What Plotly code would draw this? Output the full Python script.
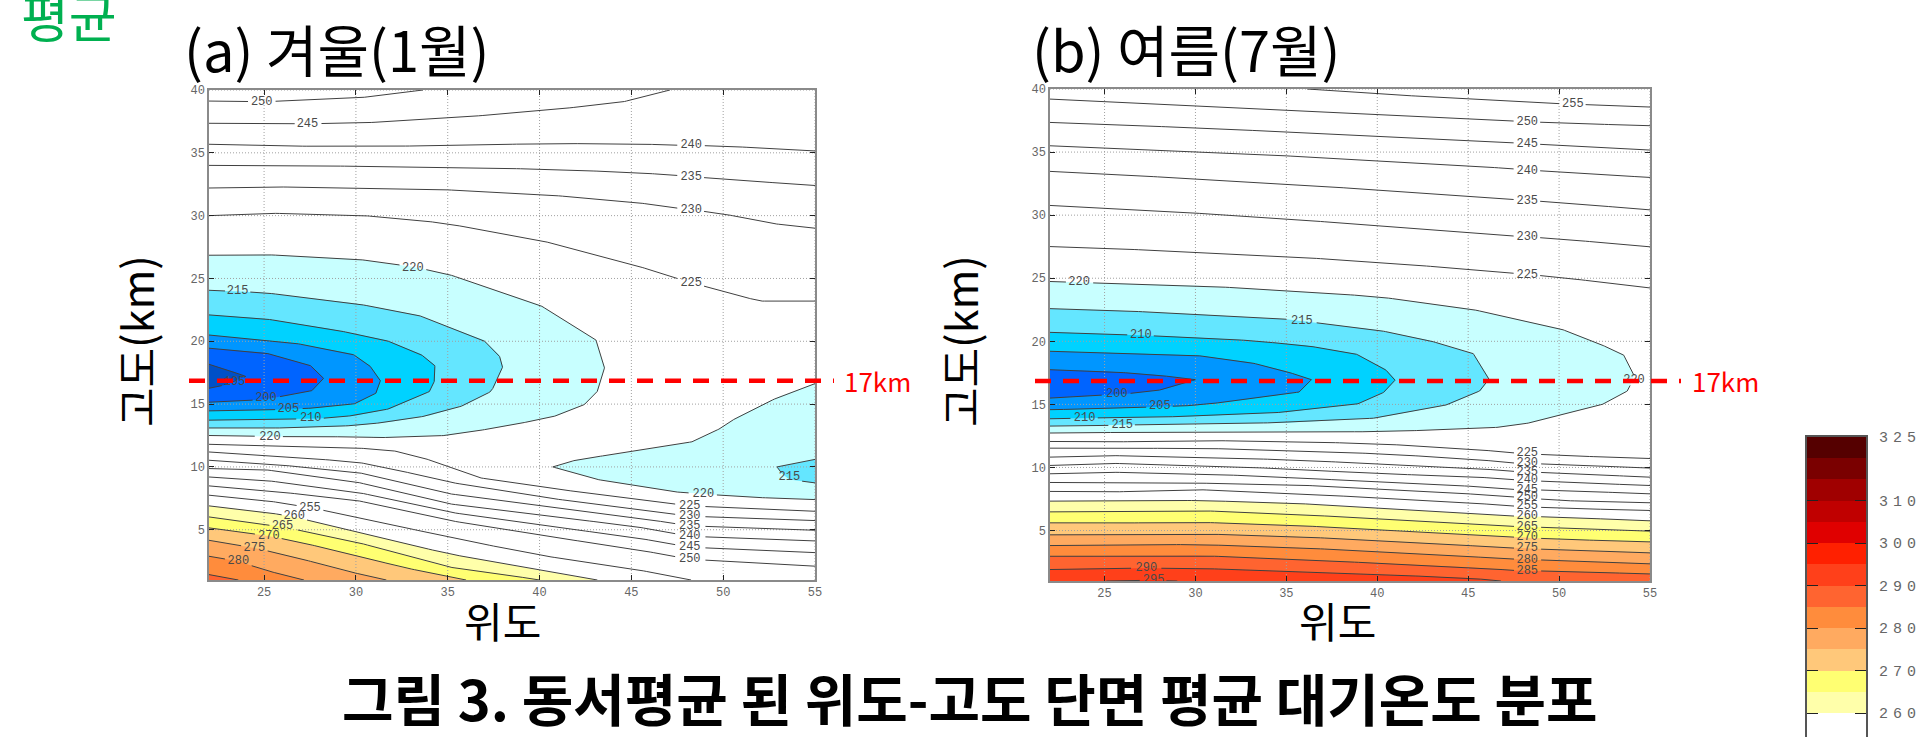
import numpy as np
import plotly.graph_objects as go

# ---------- Axis ticks ----------
lat_ticks = [25, 30, 35, 40, 45, 50, 55]
alt_ticks = [5, 10, 15, 20, 25, 30, 35, 40]
jet_alt = 16.85

# ---------- (a) Winter isotherms: latitude / altitude (km) ----------
w250_lat = [22, 25, 30, 33.65]
w250_alt = [39.12, 39.07, 39.34, 40]
w245_lat = [22, 25, 30, 35, 40, 44.4, 47.1]
w245_alt = [37.35, 37.3, 37.35, 37.75, 38.33, 39.0, 40]
w240_lat = [22, 25, 30, 35, 40, 45, 47, 50, 55]
w240_alt = [35.68, 35.55, 35.5, 35.57, 35.73, 35.73, 35.62, 35.54, 35.15]
w235_lat = [22, 25, 30, 35, 40, 45, 47.5, 50, 55]
w235_alt = [34.0, 34.0, 33.93, 33.85, 33.7, 33.45, 33.2, 32.9, 32.4]
w230_lat = [22, 25, 30, 35, 40, 45, 47.5, 50, 52.5, 55]
w230_alt = [32.2, 32.3, 32.2, 32.05, 31.7, 31.1, 30.6, 30.15, 29.4, 29.0]
w225u_lat = [22, 25, 30, 33, 35, 40, 45, 47.5, 50, 52, 55]
w225u_alt = [30.0, 30.2, 30.05, 29.7, 29.35, 28.05, 26.15, 25.0, 23.95, 23.2, 23.2]

w220_lat = [22, 25, 30, 33, 35, 40, 43.07, 43.55, 43.2, 42.5, 41.0, 40, 38, 35, 33, 31.4, 30, 26.6, 22]
w220_alt = [26.85, 26.9, 26.55, 25.95, 25.35, 22.9, 20.1, 17.96, 16.1, 15, 14.1, 13.77, 13.2, 12.5, 12.44, 12.33, 12.4, 12.4, 12.5]
w215_lat = [22, 25, 30, 33.35, 36.94, 37.8, 38, 37.6, 37.35, 35.9, 34, 31.9, 30, 26.6, 22]
w215_alt = [24.06, 23.87, 23.0, 22.1, 20.1, 18.9, 18, 16.6, 16, 14.9, 14.1, 13.6, 13.3, 13.1, 13.1]
w210_lat = [22, 25, 28.55, 31.6, 33.5, 34.3, 34.3, 34, 31.9, 30, 28, 25, 22]
w210_alt = [22.1, 21.8, 21, 20.1, 19, 18.1, 16.9, 16, 14.65, 14.1, 13.85, 13.77, 13.72]
w205_lat = [22, 25, 26.6, 29.8, 30.73, 31.34, 31.13, 30, 28, 25.6, 22]
w205_alt = [20.5, 20.1, 19.87, 19.0, 18.1, 16.9, 15.9, 15.04, 14.7, 14.56, 14.46]
w200_lat = [22, 25, 27.5, 28.24, 27.6, 25, 22]
w200_alt = [19.45, 19.1, 18.1, 17.05, 16.07, 15.36, 15.15]
w195_lat = [22, 23.3, 24, 22.8, 22]
w195_alt = [18.17, 17.6, 17.2, 16.5, 16.26]

w220b_lat = [55, 53.07, 50.8, 49.9, 48.3, 45, 42.1, 40.72, 41.97, 43.15, 45, 47.5, 51.2, 55]
w220b_alt = [16.63, 15.6, 14, 13.1, 12, 11.2, 10.6, 10, 9.47, 9.0, 8.55, 8.0, 7.6, 7.4]
w215b_lat = [55, 52.93, 53.2, 53.6, 55]
w215b_alt = [10.6, 10, 9.47, 9.0, 8.73]

w225_lat = [22, 25, 30, 31.92, 33.5, 35, 36.68, 40, 45, 48.18, 55]
w225_alt = [11.8, 11.7, 11.51, 11.33, 10.8, 10.05, 9.15, 8.41, 7.48, 6.9, 6.47]
w230l_lat = [22, 25, 30, 31.92, 35, 40, 45, 48.18, 55]
w230l_alt = [11.19, 10.93, 10.4, 9.87, 8.81, 7.61, 6.68, 6.08, 5.73]
w235l_lat = [22, 25, 26.64, 30, 33.5, 35, 40, 45, 48.18, 55]
w235l_alt = [10.53, 10.27, 10.05, 9.6, 8.41, 7.88, 6.95, 6.02, 5.31, 4.96]
w240l_lat = [22, 25, 30, 35, 40, 45, 48.18, 55]
w240l_alt = [9.87, 9.79, 8.81, 7.08, 6.15, 5.31, 4.48, 4.11]
w245l_lat = [22, 25, 30, 35, 40, 45, 48.18, 55]
w245l_alt = [9.2, 8.94, 8.01, 6.42, 5.36, 4.43, 3.61, 3.18]
w250l_lat = [22, 25, 30, 35, 40, 45, 48.18, 55]
w250l_alt = [8.49, 8.14, 7.35, 5.76, 4.56, 3.5, 2.65, 2.1]
w255_lat = [22, 25, 27.5, 30, 35, 40, 45, 48.25]
w255_alt = [7.75, 7.35, 6.76, 6.02, 4.43, 2.97, 1.91, 1.0]
w260_lat = [22, 25, 26.64, 30, 35, 40, 43.15]
w260_alt = [6.9, 6.42, 6.02, 4.83, 3.1, 1.78, 1.0]
w265_lat = [22, 25, 26, 30, 35, 37.74, 40]
w265_alt = [6.02, 5.41, 5.23, 4.03, 2.04, 1.51, 1.0]
w270_lat = [22, 25, 26.64, 30, 32.45, 36]
w270_alt = [5.15, 4.56, 4.11, 2.97, 2.04, 1.0]
w275_lat = [22, 24.47, 26.64, 29.28, 31.66]
w275_alt = [4.16, 3.55, 2.84, 1.78, 1.0]
w280_lat = [22, 23.6, 25.05, 27.17]
w280_alt = [2.89, 2.49, 1.78, 1.0]
w285_lat = [22, 23.6]
w285_alt = [1.43, 1.0]

# ---------- (b) Summer isotherms ----------
s_grid_lat = [22, 25, 30, 35, 40, 45, 50, 55]
s255u_lat = [36.14, 40, 45, 50, 55]
s255u_alt = [40, 39.6, 39.23, 38.84, 38.57]
s250u_alt = [39.2, 39.0, 38.7, 38.33, 37.96, 37.62, 37.3, 37.09]
s245u_alt = [37.35, 37.17, 36.93, 36.59, 36.24, 35.93, 35.53, 35.16]
s240u_alt = [35.5, 35.32, 35.0, 34.7, 34.31, 33.92, 33.41, 32.99]
s235u_alt = [33.47, 33.28, 32.86, 32.49, 31.98, 31.48, 31.0, 30.42]
s230u_alt = [30.77, 30.56, 30.16, 29.71, 29.15, 28.57, 28.12, 27.49]
s225u_alt = [27.51, 27.38, 27.06, 26.72, 26.27, 25.71, 25.08, 24.23]

s220_lat = [22, 25, 30, 35, 40, 45, 50, 51.76, 53.53, 54.12, 53.8, 52.5, 50, 48.67, 46.9, 45, 42.48, 40, 30, 22]
s220_alt = [24.74, 24.6, 24.42, 24.02, 23.54, 22.6, 21.03, 20.08, 18.97, 17.3, 16.1, 15.05, 14.13, 13.6, 13.2, 13.07, 12.94, 12.83, 12.83, 12.73]
s215_lat = [22, 25, 30, 35, 40, 42.77, 45.28, 46.16, 45.7, 43.95, 40, 35, 30, 25, 22]
s215_alt = [22.59, 22.49, 22.14, 21.75, 20.9, 20.1, 19.02, 17.04, 16.11, 15, 13.92, 13.55, 13.47, 13.33, 13.28]
s210_lat = [22, 25, 30, 32.75, 36, 38.8, 40.4, 41, 40.4, 38.94, 35, 30, 25, 22]
s210_alt = [20.71, 20.58, 20.3, 20.08, 19.68, 19.02, 17.83, 16.96, 15.98, 15.05, 14.39, 14.05, 13.94, 13.86]
s205_lat = [22, 25, 30, 32.9, 34.8, 36.38, 35.7, 32.46, 30, 25, 22]
s205_alt = [19.21, 19.1, 18.89, 18.36, 17.7, 16.96, 15.98, 15.32, 14.92, 14.66, 14.58]
s200_lat = [22, 25, 27.74, 30, 28.18, 26.27, 22]
s200_alt = [17.75, 17.62, 17.35, 16.96, 16.16, 15.85, 15.5]

s_low_lat = [22, 25, 30, 35, 40, 45, 47.63, 50, 55]
s225_alt = [12.06, 12.01, 12.14, 12.06, 11.88, 11.48, 11.14, 10.95, 10.71]
s230_alt = [11.53, 11.5, 11.53, 11.35, 11.09, 10.69, 10.34, 10.24, 9.95]
s235_alt = [10.82, 10.95, 10.82, 10.61, 10.29, 9.97, 9.68, 9.55, 9.23]
s240_alt = [10.16, 10.34, 10.16, 9.89, 9.5, 9.29, 9.02, 8.84, 8.57]
s245_alt = [9.5, 9.63, 9.5, 9.23, 8.84, 8.52, 8.25, 8.18, 7.91]
s250_alt = [8.81, 8.81, 8.76, 8.65, 8.31, 7.91, 7.65, 7.38, 7.2]
s255_alt = [8.1, 8.04, 8.25, 7.96, 7.59, 7.2, 6.93, 6.77, 6.59]
s260_alt = [7.33, 7.38, 7.38, 7.2, 6.77, 6.32, 6.14, 6.06, 5.77]
s265_alt = [6.48, 6.51, 6.59, 6.32, 5.93, 5.53, 5.32, 5.21, 4.95]
s270_alt = [5.61, 5.58, 5.66, 5.45, 5.05, 4.68, 4.47, 4.31, 4.1]
s275_alt = [4.66, 4.68, 4.74, 4.55, 4.21, 3.81, 3.6, 3.47, 3.23]
s280_alt = [3.81, 3.86, 3.89, 3.68, 3.33, 2.94, 2.73, 2.62, 2.36]
s285_alt = [2.96, 2.96, 3.02, 2.75, 2.41, 2.09, 1.83, 1.77, 1.56]
s290_lat = [22, 25, 30, 35, 40, 45, 46.8]
s290_alt = [1.91, 2.01, 2.01, 1.77, 1.51, 1.24, 1.0]
s295_lat = [25.1, 27.2, 29]
s295_alt = [1.0, 1.05, 1.0]

# ---------- Contour labels: level, latitude, altitude ----------
w_label_levels = [250, 245, 240, 235, 230, 225, 220, 215, 195, 200, 205, 210, 220, 215, 220, 225, 230, 235, 240, 245, 250, 255, 260, 265, 270, 275, 280]
w_label_lats = [24.87, 27.36, 48.26, 48.26, 48.26, 48.26, 33.1, 23.56, 23.39, 25.1, 26.32, 27.54, 25.32, 53.6, 48.92, 48.18, 48.18, 48.18, 48.18, 48.18, 48.18, 27.5, 26.64, 26.0, 25.26, 24.47, 23.6]
w_label_alts = [39.07, 37.32, 35.62, 33.1, 30.42, 24.6, 25.84, 24.0, 16.76, 15.46, 14.64, 13.87, 12.41, 9.18, 7.83, 6.9, 6.08, 5.31, 4.48, 3.61, 2.65, 6.76, 6.08, 5.31, 4.48, 3.55, 2.49]
s_label_levels = [255, 250, 245, 240, 235, 230, 225, 220, 215, 210, 220, 200, 205, 210, 215, 225, 230, 235, 240, 245, 250, 255, 260, 265, 270, 275, 280, 285, 290, 295]
s_label_lats = [50.76, 48.25, 48.25, 48.25, 48.25, 48.25, 48.25, 23.6, 35.85, 27.0, 54.12, 25.68, 28.04, 23.9, 25.97, 48.25, 48.25, 48.25, 48.25, 48.25, 48.25, 48.25, 48.25, 48.25, 48.25, 48.25, 48.25, 48.25, 27.3, 27.7]
s_label_alts = [38.81, 37.41, 35.66, 33.52, 31.11, 28.23, 25.24, 24.71, 21.61, 20.5, 16.9, 15.8, 14.84, 13.94, 13.36, 11.11, 10.34, 9.63, 8.97, 8.23, 7.65, 6.93, 6.14, 5.32, 4.47, 3.6, 2.7, 1.83, 2.04, 1.07]

# ---------- Colours and colour bar ----------
fill_colors = {195: "#0050c8", 200: "#0064ff", 205: "#0096ff", 210: "#00d2ff", 215: "#64e6ff", 220: "#c8ffff",
               260: "#ffffaa", 265: "#ffff72", 270: "#ffc87a", 275: "#ffaa60", 280: "#ff8c3c", 285: "#ff6430",
               290: "#ff401a", 295: "#ff2000"}
cbar_bases = [260, 265, 270, 275, 280, 285, 290, 295, 300, 305, 310, 315, 320]
cbar_colors = ["#ffffaa", "#ffff72", "#ffc87a", "#ffaa60", "#ff8c3c", "#ff6430", "#ff401a", "#ff2000",
               "#e00000", "#c00000", "#a00000", "#7a0000", "#550000"]
cbar_ticks = [260, 270, 280, 290, 300, 310, 325]

W, H = 1921, 737
LINE = "#404040"
KR = "Noto Sans CJK KR"
MONO = "Liberation Mono"


def px(x):
    return x / W


def py(y):
    return 1 - y / H


def close_down(lat, alt):
    return lat + [lat[-1], 22], alt + [1, 1]


def broken(lat, alt, level, labels):
    """Densify a polyline only to open the small gap where its label sits."""
    xs, ys = [lat[0]], [alt[0]]
    for i in range(len(lat) - 1):
        t = np.linspace(0, 1, 25)[1:]
        xs.extend(lat[i] + t * (lat[i + 1] - lat[i]))
        ys.extend(alt[i] + t * (alt[i + 1] - alt[i]))
    xs, ys = np.array(xs, float), np.array(ys, float)
    for lv, lx, ly in labels:
        if lv == level:
            m = (np.abs(xs - lx) < 0.68) & (np.abs(ys - ly) < 0.36)
            ys[m] = np.nan
    return xs, ys


fig = go.Figure()


def panel(suffix, filled, lines, labels):
    xa, ya = f"x{suffix}", f"y{suffix}"
    for level, lat, alt, kind in filled:
        fx, fy = (lat, alt) if kind == "lobe" else close_down(lat, alt)
        fig.add_trace(go.Scatter(x=fx, y=fy, xaxis=xa, yaxis=ya, mode="lines", line=dict(width=0),
                                 fill="toself", fillcolor=fill_colors[level], hoverinfo="skip"))
    gx, gy = [], []
    for t in lat_ticks:
        gx += [t, t, None]
        gy += [1, 40, None]
    for t in alt_ticks:
        gx += [22, 55, None]
        gy += [t, t, None]
    fig.add_trace(go.Scatter(x=gx, y=gy, xaxis=xa, yaxis=ya, mode="lines",
                             line=dict(color="#a0a0a0", width=1, dash="1px,2px"), hoverinfo="skip"))
    for level, lat, alt in lines:
        bx, by = broken(lat, alt, level, labels)
        fig.add_trace(go.Scatter(x=bx, y=by, xaxis=xa, yaxis=ya, mode="lines",
                                 line=dict(color=LINE, width=1), hoverinfo="skip"))
    fig.add_trace(go.Scatter(x=[l[1] for l in labels], y=[l[2] for l in labels], xaxis=xa, yaxis=ya,
                             mode="text", text=[str(l[0]) for l in labels], textposition="middle center",
                             textfont=dict(family=MONO, size=12, color="#4a4a4a"), hoverinfo="skip"))


w_filled = [(260, w260_lat, w260_alt, "down"), (265, w265_lat, w265_alt, "down"), (270, w270_lat, w270_alt, "down"),
            (275, w275_lat, w275_alt, "down"), (280, w280_lat, w280_alt, "down"), (285, w285_lat, w285_alt, "down"),
            (220, w220_lat, w220_alt, "lobe"), (220, w220b_lat, w220b_alt, "lobe"), (215, w215b_lat, w215b_alt, "lobe"),
            (215, w215_lat, w215_alt, "lobe"), (210, w210_lat, w210_alt, "lobe"), (205, w205_lat, w205_alt, "lobe"),
            (200, w200_lat, w200_alt, "lobe"), (195, w195_lat, w195_alt, "lobe")]
w_lines = [(250, w250_lat, w250_alt), (245, w245_lat, w245_alt), (240, w240_lat, w240_alt), (235, w235_lat, w235_alt),
           (230, w230_lat, w230_alt), (225, w225u_lat, w225u_alt), (220, w220_lat, w220_alt), (215, w215_lat, w215_alt),
           (210, w210_lat, w210_alt), (205, w205_lat, w205_alt), (200, w200_lat, w200_alt), (195, w195_lat, w195_alt),
           (220, w220b_lat, w220b_alt), (215, w215b_lat, w215b_alt), (225, w225_lat, w225_alt), (230, w230l_lat, w230l_alt),
           (235, w235l_lat, w235l_alt), (240, w240l_lat, w240l_alt), (245, w245l_lat, w245l_alt), (250, w250l_lat, w250l_alt),
           (255, w255_lat, w255_alt), (260, w260_lat, w260_alt), (265, w265_lat, w265_alt), (270, w270_lat, w270_alt),
           (275, w275_lat, w275_alt), (280, w280_lat, w280_alt), (285, w285_lat, w285_alt)]
w_labels = list(zip(w_label_levels, w_label_lats, w_label_alts))

s_warm = [(260, s260_alt), (265, s265_alt), (270, s270_alt), (275, s275_alt), (280, s280_alt), (285, s285_alt)]
s_filled = [(lv, s_low_lat, a, "down") for lv, a in s_warm]
s_filled += [(290, s290_lat, s290_alt, "down"), (295, s295_lat, s295_alt, "down"),
             (220, s220_lat, s220_alt, "lobe"), (215, s215_lat, s215_alt, "lobe"), (210, s210_lat, s210_alt, "lobe"),
             (205, s205_lat, s205_alt, "lobe"), (200, s200_lat, s200_alt, "lobe")]
s_lines = [(255, s255u_lat, s255u_alt), (250, s_grid_lat, s250u_alt), (245, s_grid_lat, s245u_alt), (240, s_grid_lat, s240u_alt),
           (235, s_grid_lat, s235u_alt), (230, s_grid_lat, s230u_alt), (225, s_grid_lat, s225u_alt),
           (220, s220_lat, s220_alt), (215, s215_lat, s215_alt), (210, s210_lat, s210_alt), (205, s205_lat, s205_alt),
           (200, s200_lat, s200_alt), (225, s_low_lat, s225_alt), (230, s_low_lat, s230_alt), (235, s_low_lat, s235_alt),
           (240, s_low_lat, s240_alt), (245, s_low_lat, s245_alt), (250, s_low_lat, s250_alt), (255, s_low_lat, s255_alt)]
s_lines += [(lv, s_low_lat, a) for lv, a in s_warm] + [(290, s290_lat, s290_alt), (295, s295_lat, s295_alt)]
s_labels = list(zip(s_label_levels, s_label_lats, s_label_alts))

panel("", w_filled, w_lines, w_labels)
panel("2", s_filled, s_lines, s_labels)

fig.add_trace(go.Bar(x=[0.5] * len(cbar_bases), y=[5] * len(cbar_bases), base=cbar_bases, width=1, xaxis="x3", yaxis="y3",
                     marker=dict(color=cbar_colors, line=dict(width=0)), hoverinfo="skip"))

RED = dict(color="#ff0000", width=4.5, dash="16px,12px")
# 17 km guide: spans slightly past each frame, so its x-extent is on the paper, its height on the data axis
red_shapes = [
    dict(type="line", xref="paper", yref="y", x0=px(189), x1=px(834), y0=jet_alt, y1=jet_alt, line=RED, layer="above"),
    dict(type="line", xref="paper", yref="y2", x0=px(1035), x1=px(1681), y0=jet_alt, y1=jet_alt, line=RED, layer="above"),
]

tickfont = dict(family=MONO, size=12, color="#666666")


def xaxis(dom):
    return dict(domain=dom, range=[22, 55], tickvals=lat_ticks, ticks="inside", ticklen=5, tickcolor="#222222",
                mirror="ticks", showline=True, linecolor="#8a8a8a", linewidth=1.5, showgrid=False, zeroline=False,
                tickfont=tickfont, automargin=False)


def yaxis(dom):
    return dict(domain=dom, range=[1, 40], tickvals=alt_ticks, ticks="inside", ticklen=5, tickcolor="#222222",
                mirror="ticks", showline=True, linecolor="#8a8a8a", linewidth=1.5, showgrid=False, zeroline=False,
                tickfont=tickfont, automargin=False)


def note(text, x, y, size, color="#000000", angle=0, bold=False, xanchor="center"):
    return dict(text=text, x=px(x), y=py(y), xref="paper", yref="paper", showarrow=False, xanchor=xanchor, yanchor="middle",
                textangle=angle, font=dict(family=KR, size=size, color=color, weight=700 if bold else 400))


fig.update_layout(
    width=W, height=H, margin=dict(l=0, r=0, t=0, b=0, pad=0), showlegend=False, paper_bgcolor="white", plot_bgcolor="white",
    bargap=0, barmode="overlay", shapes=red_shapes,
    xaxis=xaxis([px(209), px(815)]), yaxis=yaxis([py(580), py(90)]),
    xaxis2=dict(xaxis([px(1050), px(1650)]), anchor="y2"), yaxis2=dict(yaxis([py(581), py(89)]), anchor="x2"),
    xaxis3=dict(domain=[px(1807), px(1866)], range=[0, 1], anchor="y3", showticklabels=False, ticks="", showline=True,
                mirror=True, linecolor="#555555", linewidth=2, showgrid=False, zeroline=False, automargin=False),
    yaxis3=dict(domain=[py(737), py(437)], range=[254.35, 325], anchor="x3", side="right", tickvals=cbar_ticks,
                ticks="inside", ticklen=11, tickcolor="#222222", mirror="ticks", showline=True, linecolor="#555555",
                linewidth=2, showgrid=False, zeroline=False, ticklabelstandoff=8, automargin=False,
                tickfont=dict(family=MONO, size=15, color="#666666")),
    annotations=[
        note("평균", 69, 15, 52, color="#00b050"),
        note("(a) 겨울(1월)", 182, 47, 56, xanchor="left"),
        note("(b) 여름(7월)", 1030, 47, 56, xanchor="left"),
        note("고도(km)", 135, 341, 43, angle=-90),
        note("고도(km)", 959, 341, 43, angle=-90),
        note("위도", 502, 619, 42),
        note("위도", 1337, 619, 42),
        note("17km", 842, 380, 26, color="#ff0000", xanchor="left"),
        note("17km", 1690, 380, 26, color="#ff0000", xanchor="left"),
        note("그림 3. 동서평균 된 위도-고도 단면 평균 대기온도 분포", 970, 696, 56, bold=True),
    ],
)

fig.write_html("out.html", config=dict(displayModeBar=False),
               post_script="document.body.style.margin='0';document.body.style.overflow='hidden';"
                           "document.querySelectorAll('.y3tick text').forEach(t=>t.style.letterSpacing='5px');")
